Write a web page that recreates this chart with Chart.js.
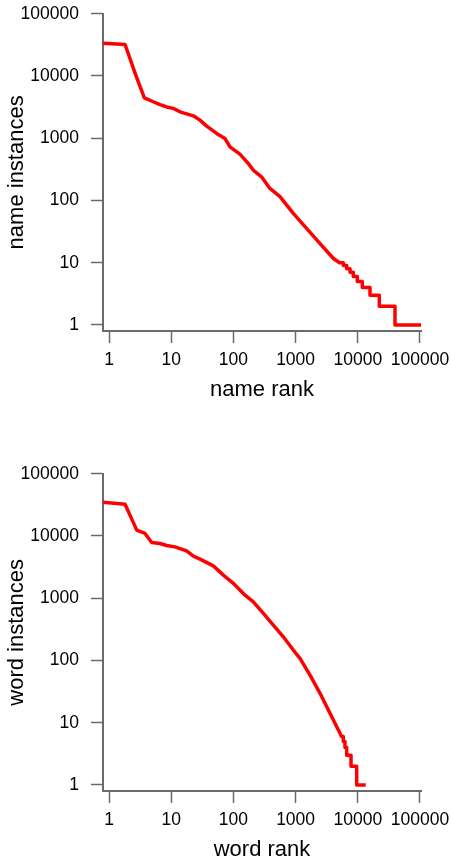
<!DOCTYPE html>
<html>
<head>
<meta charset="utf-8">
<script src="https://cdn.jsdelivr.net/npm/chart.js@4/dist/chart.umd.min.js"></script>
<style>
  html, body { margin: 0; padding: 0; background: #fff; overflow: hidden; width: 451px; height: 858px; }
  .panel { position: absolute; left: 0; width: 451px; height: 429px; }
  .panel canvas { display: block; }
</style>
</head>
<body>
<div class="panel" style="top:0px"><canvas id="c1" width="451" height="429"></canvas></div>
<div class="panel" style="top:460px"><canvas id="c2" width="451" height="429"></canvas></div>
<script>
// ---- data ----
const tickValues = [1, 10, 100, 1000, 10000, 100000];

const nameRank = [0.8, 1.81, 2.7, 3.7, 5.15, 6.6, 8.45, 10.8, 13.8, 22.7, 29, 37.2, 53.6, 73, 88, 127, 173, 208, 283, 386, 561, 917, 1500, 2450, 4060,
  5100, 5850, 5850, 6630, 6630, 7500, 7500, 8470, 8470, 9820, 9820, 11810, 11810, 15710, 15710, 22170, 22170, 39630, 39630, 105000];
const nameCount = [33650, 32000, 10200, 4450, 3850, 3470, 3180, 3010, 2655, 2290, 1950, 1565, 1195, 993, 728, 556, 394, 308, 240, 156, 115, 62, 35.7, 20.5, 11.7,
  10, 10, 9, 9, 8, 8, 7, 7, 6, 6, 5, 5, 4, 4, 3, 3, 2, 2, 1, 1];

const wordRank = [0.8, 1.81, 2.79, 3.79, 4.86, 6.6, 8.45, 11.5, 17.7, 22.7, 29, 47.5, 68.8, 100, 154, 209, 303, 438, 634, 918, 1175, 1706, 2470, 3570, 4300, 4750, 5100,
  5470, 5850, 5850, 6220, 6220, 6630, 6630, 7780, 7780, 9600, 9600, 13400];
const wordCount = [34850, 32400, 12400, 10970, 7870, 7570, 7030, 6680, 5770, 4740, 4245, 3310, 2350, 1727, 1120, 875, 569, 370, 240, 147, 108, 58, 29.7, 14.2, 9.8, 8, 7,
  6, 6, 5, 5, 4, 4, 3, 3, 2, 2, 1, 1];

const FONT = '"Liberation Sans", Arial, Helvetica, sans-serif';
const AXIS_COLOR = '#6a6a6a';

function makeChart(id, xs, ys, xTitle, yTitle) {
  const pts = xs.map((x, i) => ({ x: x, y: ys[i] }));
  const setTicks = (scale) => { scale.ticks = tickValues.map(v => ({ value: v })); };
  const common = {
    type: 'logarithmic',
    afterBuildTicks: setTicks,
    grid: { display: true, drawOnChartArea: false, drawTicks: true, tickLength: 12, tickColor: AXIS_COLOR, tickWidth: 1.5 },
    border: { display: true, color: AXIS_COLOR, width: 2 },
  };
  return new Chart(document.getElementById(id), {
    type: 'line',
    data: {
      datasets: [{
        data: pts,
        borderColor: '#ff0000',
        borderWidth: 3.5,
        borderJoinStyle: 'round',
        pointRadius: 0,
        tension: 0,
        fill: false
      }]
    },
    options: {
      responsive: false,
      animation: false,
      events: [],
      layout: { padding: { top: 13.7, right: 30, left: 0, bottom: 0 } },
      plugins: { legend: { display: false }, tooltip: { enabled: false } },
      scales: {
        x: Object.assign({}, common, {
          position: 'bottom',
          min: 0.8, max: 103800,
          afterFit: (s) => { s.height = 98; s.paddingLeft = 0; s.paddingRight = 0; },
          ticks: { autoSkip: false, maxRotation: 0, padding: 7, color: '#000', font: { family: FONT, size: 17.5 }, callback: (v) => String(v) },
          title: { display: true, text: xTitle, color: '#000', font: { family: FONT, size: 22 }, padding: { top: 0, bottom: 26 } }
        }),
        y: Object.assign({}, common, {
          position: 'left',
          min: 0.8, max: 100000,
          afterFit: (s) => { s.width = 103; s.paddingTop = 0; s.paddingBottom = 0; },
          ticks: { autoSkip: false, padding: 12, color: '#000', font: { family: FONT, size: 17.5 }, callback: (v) => String(v) },
          title: { display: true, text: yTitle, color: '#000', font: { family: FONT, size: 22 }, padding: { top: 4, bottom: 0 } }
        })
      }
    }
  });
}

makeChart('c1', nameRank, nameCount, 'name rank', 'name instances');
makeChart('c2', wordRank, wordCount, 'word rank', 'word instances');
</script>
</body>
</html>
